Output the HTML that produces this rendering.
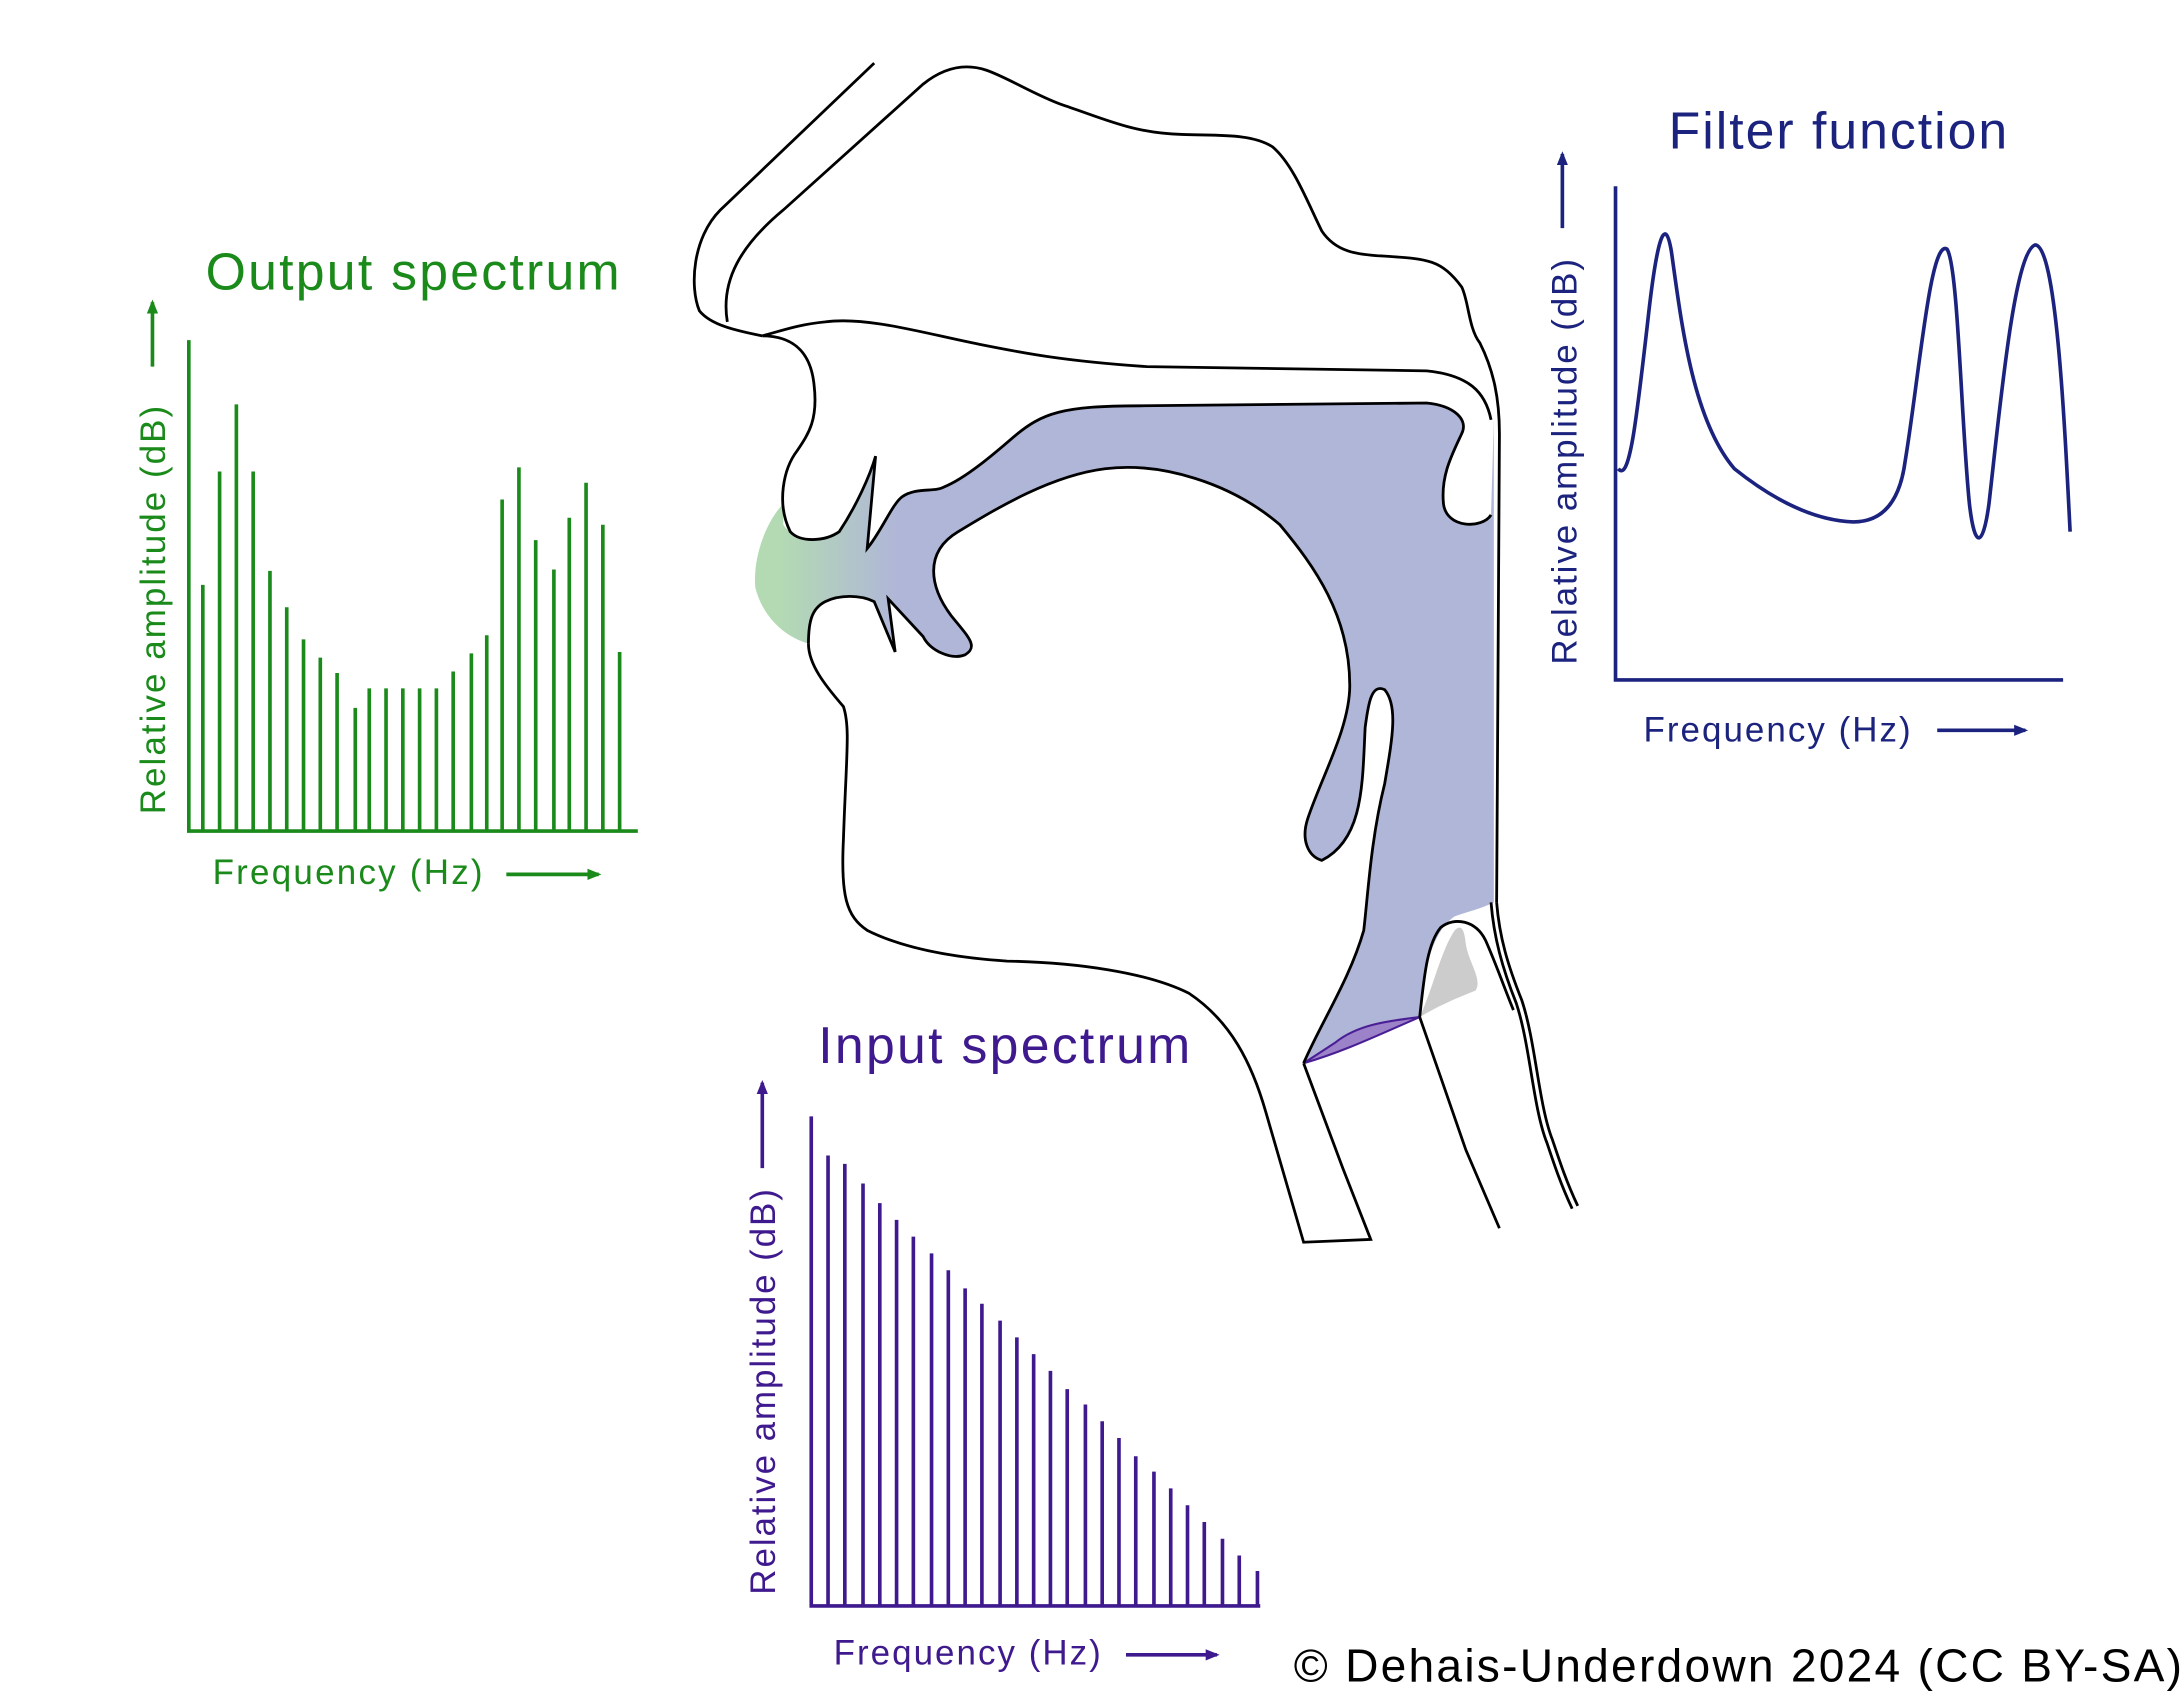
<!DOCTYPE html>
<html><head><meta charset="utf-8"><style>html,body{margin:0;padding:0;background:#fff}svg{display:block}</style></head>
<body>
<svg width="2182" height="1697" viewBox="0 0 1560 1213" xmlns="http://www.w3.org/2000/svg" font-family="Liberation Sans, sans-serif">
<defs>
<linearGradient id="g" x1="540" y1="0" x2="660" y2="0" gradientUnits="userSpaceOnUse">
<stop offset="0.15" stop-color="#b3dab3"/><stop offset="0.85" stop-color="#b0b6d8"/></linearGradient>
<marker id="ag" markerWidth="10" markerHeight="10" refX="8" refY="5" orient="auto" markerUnits="userSpaceOnUse"><path d="M0,1 L10,5 L0,9Z" fill="#1a8a1a"/></marker>
<marker id="ab" markerWidth="10" markerHeight="10" refX="8" refY="5" orient="auto" markerUnits="userSpaceOnUse"><path d="M0,1 L10,5 L0,9Z" fill="#1b237e"/></marker>
<marker id="ap" markerWidth="10" markerHeight="10" refX="8" refY="5" orient="auto" markerUnits="userSpaceOnUse"><path d="M0,1 L10,5 L0,9Z" fill="#3f1a8e"/></marker>
</defs>

<!-- vocal tract fill -->
<path d="M560,375 C570,390 595,385 600,380 C612,360 622,340 626,326 L620,392 C630,380 638,360 645,355 C655,348 668,352 675,348 C690,342 710,325 725,312 C745,295 760,290 815,290 L1020,288 C1040,290 1050,300 1045,310 C1038,325 1030,340 1032,360 C1034,378 1060,378 1066,368 L1068,300 L1068,645 C1058,650 1048,652 1040,655 C1025,665 1018,690 1015,727 L932,760 C945,730 965,700 975,665 C978,640 980,600 990,560 C995,530 1000,505 990,493 C980,488 978,505 976,520 C974,560 975,600 945,615 C935,612 930,600 935,585 C945,555 965,520 965,490 C965,440 940,405 915,375 C880,345 830,330 790,335 C750,340 710,365 685,380 C660,395 665,420 680,440 C692,455 700,462 690,468 C680,472 665,465 660,455 L635,428 L640,466 L625,430 C615,425 600,425 590,430 C580,435 578,445 578,460 C560,455 545,440 540,420 C538,395 550,370 560,360 Z" fill="url(#g)"/>
<!-- grey cartilage -->
<path d="M1015,727 C1030,718 1045,712 1055,708 C1060,700 1050,688 1048,675 C1047,665 1045,660 1040,665 C1030,680 1025,705 1015,727Z" fill="#cccccc"/>
<!-- glottis -->
<path d="M932,760 C960,752 985,740 1015,727 C990,730 970,733 955,745 Z" fill="#9c82c8" stroke="#4a1f95" stroke-width="1.5"/>

<g fill="none" stroke="#000" stroke-width="2">
<!-- nose outer -->
<path d="M625,45 L515,150 C495,170 493,205 500,222 C508,232 525,236 545,240"/>
<!-- nose inner + head -->
<path d="M520,230 C515,200 530,175 560,150 L660,60 C675,48 690,45 705,50 C720,55 740,68 760,75 C790,85 810,95 845,96 C870,97 895,95 910,105 C925,118 935,145 945,165 C955,180 970,182 990,183 C1020,185 1030,185 1045,205 C1050,215 1050,235 1058,245 C1068,265 1072,285 1072,310 L1070,645"/>
<!-- double back wall -->
<path d="M1070,645 C1072,670 1078,690 1088,715 C1098,745 1100,790 1110,815 C1115,830 1120,845 1128,862"/>
<path d="M1066,645 C1068,670 1074,692 1084,717 C1094,747 1096,792 1106,817 C1111,832 1116,847 1124,864"/>
<!-- palate upper line -->
<path d="M545,240 C560,236 570,232 590,230 C620,226 660,238 700,246 C730,252 760,258 820,262 L1020,265 C1050,268 1062,280 1066,300"/>
<!-- upper lip and palate lower edge -->
<path d="M545,240 C570,240 580,255 582,275 C585,300 578,310 570,322 C560,335 555,360 565,380 C572,388 590,387 600,380 C612,362 622,340 626,326 L620,392 C630,380 638,360 645,355 C655,348 668,352 675,348 C690,342 710,325 725,312 C745,295 760,290 815,290 L1020,288 C1040,290 1050,300 1045,310 C1038,325 1030,340 1032,360 C1034,378 1060,378 1066,368"/>
<!-- lower lip, tongue, epiglottis -->
<path d="M578,460 C578,445 580,435 590,430 C600,425 615,425 625,430 L640,466 L635,428 L660,455 C665,465 680,472 690,468 C700,462 692,455 680,440 C665,420 660,395 685,380 C710,365 750,340 790,335 C830,330 880,345 915,375 C940,405 965,440 965,490 C965,520 945,555 935,585 C930,600 935,612 945,615 C975,600 974,560 976,520 C978,505 980,488 990,493 C1000,505 995,530 990,560 C980,600 978,640 975,665 C965,700 945,730 932,760"/>
<!-- jaw/neck -->
<path d="M578,460 C578,475 590,490 603,505 C608,520 605,540 603,600 C601,640 605,655 620,665 C650,680 690,685 720,687 C770,688 820,695 850,710 C880,730 895,760 905,795 L932,888 L980,886 L960,835 L932,760"/>
<!-- arytenoid / esophagus -->
<path d="M1015,727 L1030,770 L1048,822 L1072,878"/>
<path d="M1015,727 C1018,700 1020,675 1030,663 C1040,655 1055,658 1062,672 C1070,690 1075,705 1082,722" />
</g>

<!-- Output spectrum -->
<text x="147" y="207" font-size="37" fill="#1a8a1a" textLength="296">Output spectrum</text>
<g stroke="#1a8a1a" stroke-width="2.6" fill="none">
<path d="M135,243 L135,594 L456,594"/>
<path d="M145,593V418M157,593V337M169,593V289M181,593V337M193,593V408M205,593V434M217,593V457M229,593V470M241,593V481M254,593V506M264,593V492M276,593V492M288,593V492M300,593V492M312,593V492M324,593V480M337,593V467M348,593V454M359,593V357M371,593V334M383,593V386M396,593V407M407,593V370M419,593V345M431,593V375M443,593V466"/>
<path d="M109,262 L109,216" marker-end="url(#ag)"/>
<path d="M362,625 L428,625" marker-end="url(#ag)"/>
</g>
<text transform="translate(118,582) rotate(-90)" font-size="25" fill="#1a8a1a" textLength="292">Relative amplitude (dB)</text>
<text x="152" y="632" font-size="25" fill="#1a8a1a" textLength="193">Frequency (Hz)</text>

<!-- Filter function -->
<text x="1193" y="106" font-size="37" fill="#1b237e" textLength="242">Filter function</text>
<g stroke="#1b237e" stroke-width="2.6" fill="none">
<path d="M1155,133 L1155,486 L1475,486"/>
<path d="M1157,335 C1165,345 1170,300 1178,230 C1184,175 1190,150 1195,180 C1202,230 1210,300 1240,335 C1265,355 1295,372 1325,373 C1345,373 1358,360 1362,330 C1372,270 1380,170 1392,178 C1400,190 1402,300 1408,360 C1412,395 1418,390 1422,360 C1430,290 1440,180 1455,175 C1470,175 1476,300 1480,380"/>
<path d="M1117,163 L1117,110" marker-end="url(#ab)"/>
<path d="M1385,522 L1448,522" marker-end="url(#ab)"/>
</g>
<text transform="translate(1127,475) rotate(-90)" font-size="25" fill="#1b237e" textLength="290">Relative amplitude (dB)</text>
<text x="1175" y="530" font-size="25" fill="#1b237e" textLength="191">Frequency (Hz)</text>

<!-- Input spectrum -->
<text x="585" y="760" font-size="37" fill="#3f1a8e" textLength="266">Input spectrum</text>
<g stroke="#3f1a8e" stroke-width="2.6" fill="none">
<path d="M580,798 L580,1148 L901,1148"/>
<path d="M592,1147V826M604,1147V832M617,1147V846M629,1147V860M641,1147V872M653,1147V884M666,1147V896M678,1147V908M690,1147V921M702,1147V932M715,1147V944M727,1147V956M739,1147V968M751,1147V980M763,1147V993M776,1147V1004M788,1147V1016M800,1147V1028M812,1147V1041M825,1147V1052M837,1147V1064M849,1147V1076M861,1147V1088M874,1147V1100M886,1147V1112M899,1147V1123"/>
<path d="M545,835 L545,774" marker-end="url(#ap)"/>
<path d="M805,1183 L870,1183" marker-end="url(#ap)"/>
</g>
<text transform="translate(554,1140) rotate(-90)" font-size="25" fill="#3f1a8e" textLength="290">Relative amplitude (dB)</text>
<text x="596" y="1190" font-size="25" fill="#3f1a8e" textLength="191">Frequency (Hz)</text>

<text x="925" y="1202" font-size="33" fill="#000" textLength="635">© Dehais-Underdown 2024 (CC BY-SA)</text>
</svg>
</body></html>
